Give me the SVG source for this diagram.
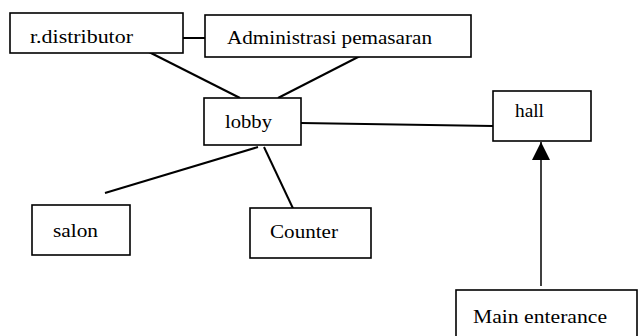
<svg xmlns="http://www.w3.org/2000/svg" width="640" height="336" viewBox="0 0 640 336">
  <style>
    .box { fill: #ffffff; stroke: #000000; stroke-width: 1.6; }
    .lbl { font-family: 'Liberation Serif', 'Times New Roman', serif; font-size: 19px; fill: #000000; }
    .link { stroke: #000000; stroke-width: 2; fill: none; }
    .flow { stroke: #000000; stroke-width: 1.5; fill: none; }
  </style>
  <defs>
    <marker id="tri" viewBox="0 0 18 18" refX="18" refY="9" markerWidth="18" markerHeight="18" markerUnits="userSpaceOnUse" orient="auto">
      <path d="M0,0 L18,9 L0,18 Z" fill="#000000"/>
    </marker>
  </defs>

  <rect width="640" height="336" fill="#ffffff"/>

  <!-- connectors -->
  <g id="connectors">
    <line class="link" x1="183" y1="38" x2="205" y2="38"/>
    <line class="link" x1="145" y1="50" x2="240" y2="98"/>
    <line class="link" x1="362" y1="55" x2="278" y2="98"/>
    <line class="link" x1="301" y1="123" x2="493" y2="126"/>
    <line class="link" x1="258" y1="147" x2="105" y2="193"/>
    <line class="link" x1="264" y1="147" x2="298" y2="219"/>
    <line class="flow" x1="541" y1="286" x2="541" y2="142" marker-end="url(#tri)"/>
  </g>

  <!-- nodes -->
  <g id="r-distributor">
    <rect class="box" x="10" y="13" width="173" height="40"/>
    <text class="lbl" x="30" y="43" textLength="103" lengthAdjust="spacingAndGlyphs">r.distributor</text>
  </g>
  <g id="administrasi-pemasaran">
    <rect class="box" x="205" y="15" width="266" height="42"/>
    <text class="lbl" x="227" y="44" textLength="205" lengthAdjust="spacingAndGlyphs">Administrasi pemasaran</text>
  </g>
  <g id="lobby">
    <rect class="box" x="204" y="98" width="97" height="47"/>
    <text class="lbl" x="225" y="128" textLength="47" lengthAdjust="spacingAndGlyphs">lobby</text>
  </g>
  <g id="hall">
    <rect class="box" x="493" y="91" width="98" height="50"/>
    <text class="lbl" x="515" y="117" textLength="29" lengthAdjust="spacingAndGlyphs">hall</text>
  </g>
  <g id="salon">
    <rect class="box" x="32" y="205" width="98" height="50"/>
    <text class="lbl" x="53" y="237" textLength="45" lengthAdjust="spacingAndGlyphs">salon</text>
  </g>
  <g id="counter">
    <rect class="box" x="250" y="208" width="121" height="50"/>
    <text class="lbl" x="270" y="238" textLength="68" lengthAdjust="spacingAndGlyphs">Counter</text>
  </g>
  <g id="main-enterance">
    <rect class="box" x="456" y="290" width="181" height="60"/>
    <text class="lbl" x="473" y="323" textLength="134" lengthAdjust="spacingAndGlyphs">Main enterance</text>
  </g>
</svg>
